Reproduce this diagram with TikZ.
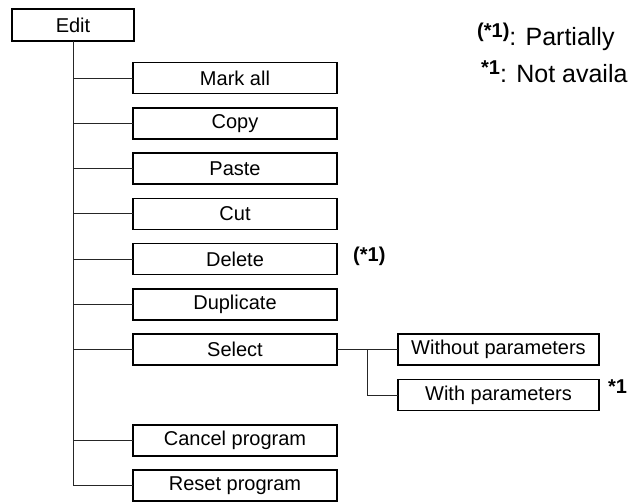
\documentclass[tikz,border=0pt]{standalone}
\usepackage{fontspec}
\setmainfont{Liberation Sans}
\usetikzlibrary{positioning}
\newcommand{\supnote}[1]{\raisebox{8.5pt}{\fontsize{20}{22}\selectfont\bfseries #1}}

\begin{document}
\begin{tikzpicture}[
    x=1pt, y=-1pt,
    menu/.style={rectangle, draw=black, line width=1.6pt, outer sep=0pt, inner sep=0pt, minimum width=204pt, minimum height=31pt, font=\fontsize{20}{24}\selectfont},
    root/.style={menu, minimum width=122pt, minimum height=32pt},
    sub/.style={menu, minimum width=201pt},
    flag/.style={inner sep=0pt, font=\fontsize{20}{24}\selectfont\bfseries},
    legend/.style={inner sep=0pt, font=\fontsize{25}{30}\selectfont},
    link/.style={line width=0.9pt, black!85}
]
\useasboundingbox (0,0) rectangle (629,502);

% Root menu
\node[root] (edit) at (73,25) {Edit};

% Menu entries
\node[menu] (markall) at (235,78) {Mark all};
\node[menu, below=14.3pt of markall] (copy) {Copy};
\node[menu, below=14.3pt of copy] (paste) {Paste};
\node[menu, below=14.3pt of paste] (cut) {Cut};
\node[menu, below=14.3pt of cut] (delete) {Delete};
\node[menu, below=14.3pt of delete] (duplicate) {Duplicate};
\node[menu, below=14.3pt of duplicate] (select) {Select};
\node[menu, below=59.6pt of select] (cancel) {Cancel program};
\node[menu, below=14.3pt of cancel] (reset) {Reset program};

% Select submenu
\node[sub, right=61pt of select] (without) {Without parameters};
\node[sub, below=14.3pt of without] (with) {With parameters};

% Notes
\node[flag, right=16pt of delete, yshift=3pt] (delnote) {(*1)};
\node[flag, anchor=north west, xshift=9pt] (withnote) at (with.north east) {*1};

% Legend
\node[legend, anchor=base west] (legpart) at (477,46) {\supnote{(*1)}: Partially};
\node[legend, anchor=base west] (legnot) at (481,83) {\supnote{*1}: Not availa};

% Connectors
\draw[link] (edit.south) |- (markall.west);
\draw[link] (edit.south) |- (copy.west);
\draw[link] (edit.south) |- (paste.west);
\draw[link] (edit.south) |- (cut.west);
\draw[link] (edit.south) |- (delete.west);
\draw[link] (edit.south) |- (duplicate.west);
\draw[link] (edit.south) |- (select.west);
\draw[link] (edit.south) |- (cancel.west);
\draw[link] (edit.south) |- (reset.west);

\draw[link] (select.east) -- (without.west);
\path (select.east) -- (without.west) coordinate[pos=0.5] (fork);
\draw[link] (fork) |- (with.west);

\end{tikzpicture}
\end{document}
